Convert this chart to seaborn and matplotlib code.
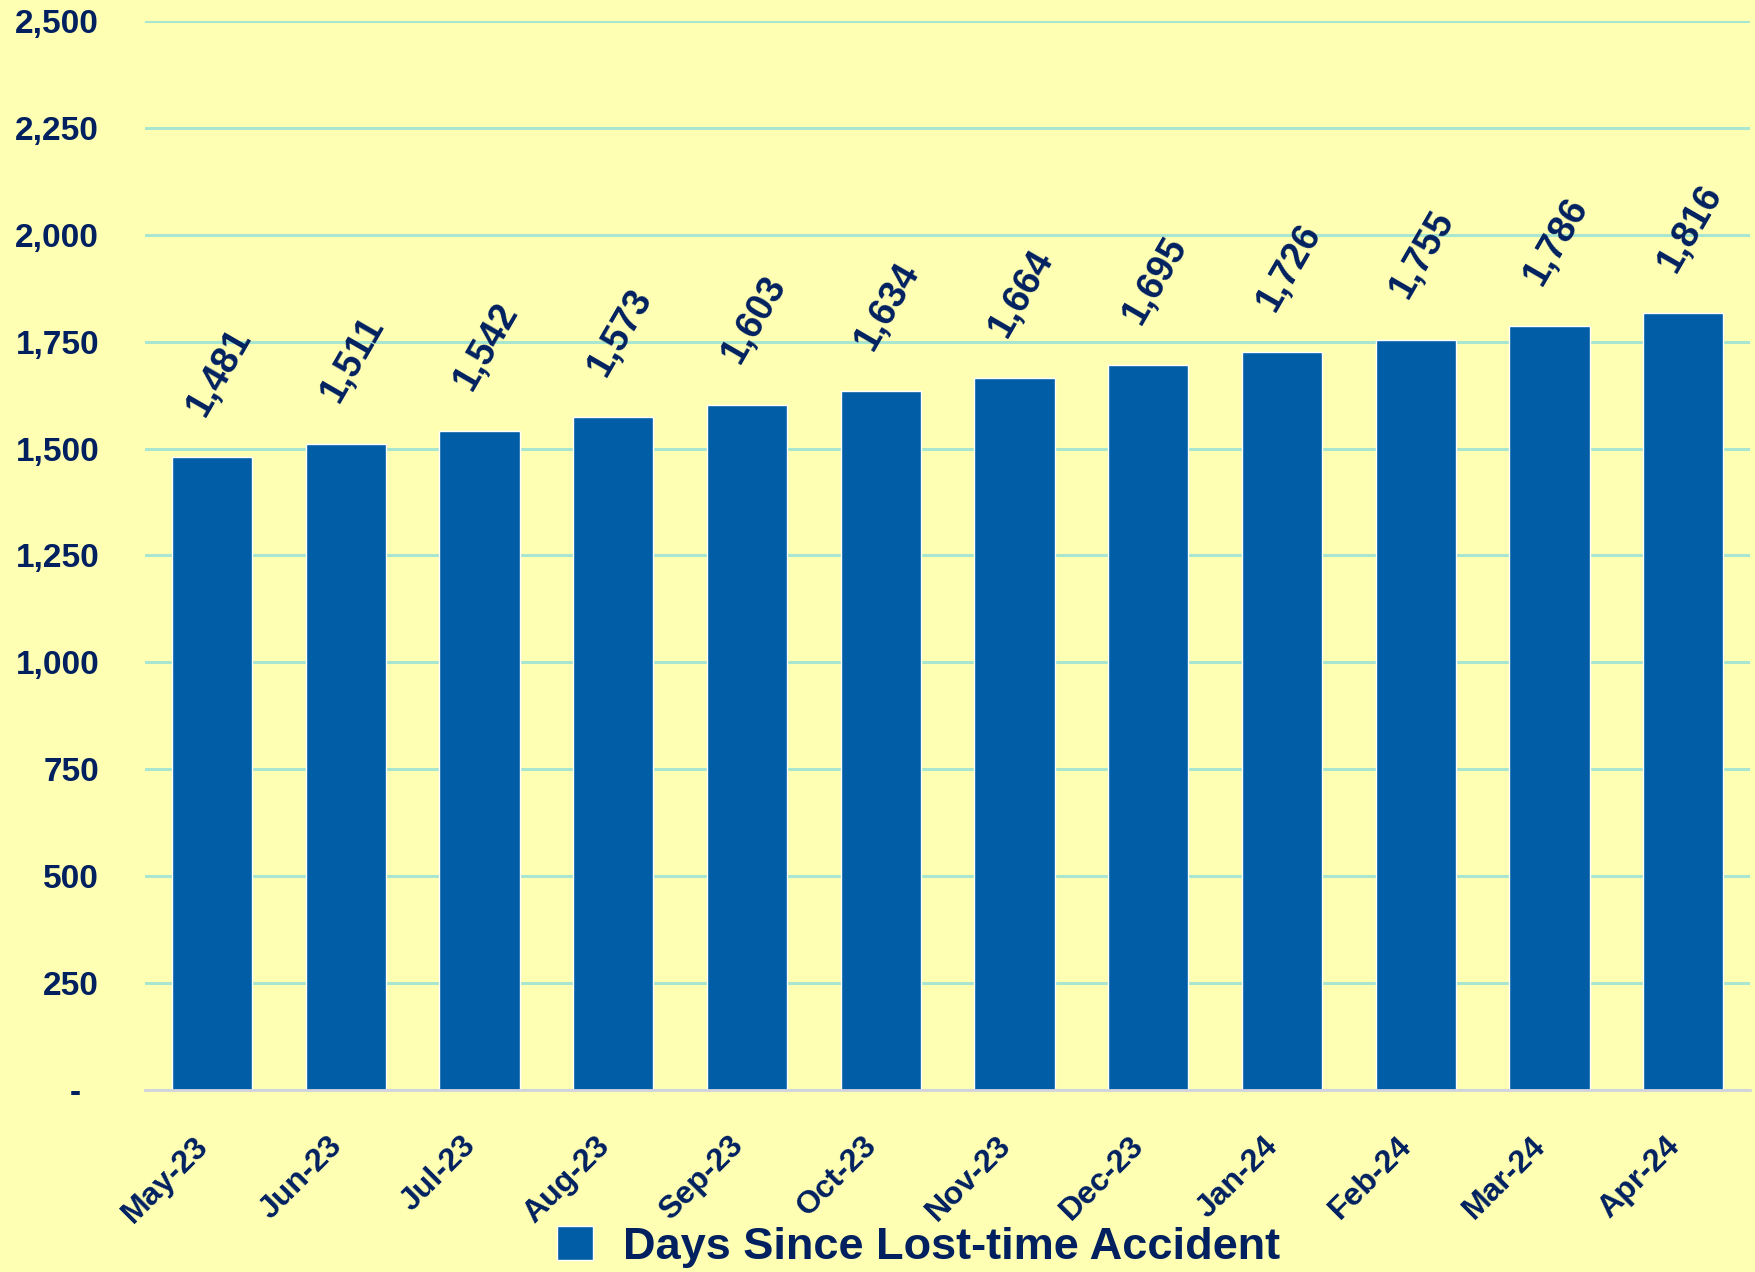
import pandas as pd
import matplotlib.pyplot as plt
import matplotlib.transforms as mtransforms
import seaborn as sns

# Chart data
months = ['May-23', 'Jun-23', 'Jul-23', 'Aug-23', 'Sep-23', 'Oct-23',
          'Nov-23', 'Dec-23', 'Jan-24', 'Feb-24', 'Mar-24', 'Apr-24']
days = [1481, 1511, 1542, 1573, 1603, 1634, 1664, 1695, 1726, 1755, 1786, 1816]
y_ticks = [0, 250, 500, 750, 1000, 1250, 1500, 1750, 2000, 2250, 2500]
series_name = 'Days Since Lost-time Accident'

df = pd.DataFrame({'Month': months, 'Days': days})

bg = '#FFFFB3'
bar_color = '#005DA6'
text_color = '#002060'
grid_color = '#A8E6CF'

sns.set_theme(style='white')
plt.rcParams['font.family'] = ['Liberation Sans', 'DejaVu Sans']
plt.rcParams['font.weight'] = 'bold'

fig = plt.figure(figsize=(17.56, 12.72), dpi=100, facecolor=bg)
ax = fig.add_axes([0.0826, 0.1431, 0.914, 0.8404])
ax.set_facecolor(bg)

sns.barplot(data=df, x='Month', y='Days', color=bar_color, width=0.6,
            saturation=1, ax=ax, label=series_name, zorder=3)
handles, labels = ax.get_legend_handles_labels()
if ax.get_legend() is not None:
    ax.get_legend().remove()

ax.set_ylim(0, 2500)
ax.set_xlim(-0.5, 11.5)
ax.set_yticks(y_ticks)
ax.set_yticklabels([f'{v:,}' if v else '-  ' for v in y_ticks])
ax.yaxis.grid(True, color=grid_color, linewidth=2.2, zorder=0)
ax.set_axisbelow(True)

for s in ['top', 'right', 'left']:
    ax.spines[s].set_visible(False)
ax.spines['bottom'].set_color('#D3D3DF')
ax.spines['bottom'].set_linewidth(2)
ax.spines['bottom'].set_zorder(4)

ax.tick_params(axis='y', length=0, pad=33, labelsize=24, labelcolor=text_color)
ax.tick_params(axis='x', length=0, pad=37, labelsize=23, labelcolor=text_color)
plt.setp(ax.get_xticklabels(), rotation=45, ha='right', va='center',
         rotation_mode='anchor', fontweight='bold')
plt.setp(ax.get_yticklabels(), fontweight='bold')
shift = mtransforms.ScaledTranslation(-6 / 72, 0, fig.dpi_scale_trans)
for lab in ax.get_xticklabels():
    lab.set_transform(lab.get_transform() + shift)
ax.set_xlabel('')
ax.set_ylabel('')

# data labels above each bar
for i, v in enumerate(days):
    ax.annotate(f'{v:,}', xy=(i, v), xytext=(5, 61), textcoords='offset points',
                ha='center', va='center', rotation=60, fontsize=27,
                fontweight='bold', color=text_color)

fig.legend(handles, labels, loc='center', bbox_to_anchor=(0.523, 0.020),
           frameon=False, handlelength=0.8, handleheight=0.8,
           handletextpad=0.65,
           prop={'family': ['Liberation Sans', 'DejaVu Sans'],
                 'weight': 'bold', 'size': 32.5},
           labelcolor=text_color)

fig.savefig('out.png', dpi=100, facecolor=bg)
